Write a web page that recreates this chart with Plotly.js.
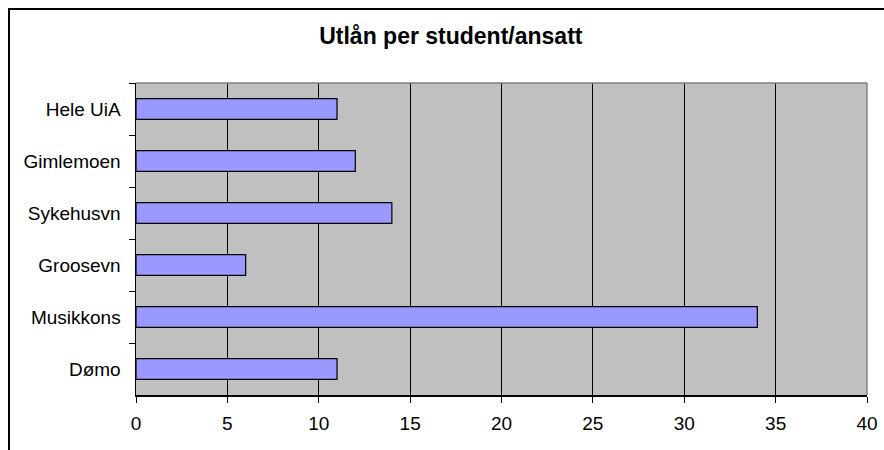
<!DOCTYPE html>
<html>
<head>
<meta charset="utf-8">
<script src="https://cdn.plot.ly/plotly-3.0.1.min.js"></script>
<style>
  html, body { margin: 0; padding: 0; background: #fff; }
  #wrap { position: relative; width: 884px; height: 450px; overflow: hidden; }
  #frame { position: absolute; left: 8px; top: 8px; width: 1000px; height: 1000px; border-left: 2px solid #000; border-top: 2px solid #000; pointer-events: none; z-index: 5; }
  #chart { position: absolute; left: 0; top: 0; width: 884px; height: 450px; }
</style>
</head>
<body>
<div id="wrap">
  <div id="chart"></div>
  <div id="frame"></div>
</div>
<script>
const categories = ["Hele UiA", "Gimlemoen", "Sykehusvn", "Groosevn", "Musikkons", "Dømo"];
const values = [11, 12, 14, 6, 34, 11];
const xTicks = [0, 5, 10, 15, 20, 25, 30, 35, 40];
const titleText = "Utlån per student/ansatt";

const font = "Liberation Sans, Arial, sans-serif";

const trace = {
  type: "bar",
  orientation: "h",
  y: categories,
  x: values,
  width: 0.4,
  marker: { color: "#9999FF", line: { color: "#000000", width: 1.2 } },
  hoverinfo: "none"
};

const layout = {
  width: 884,
  height: 450,
  margin: { l: 136, r: 17, t: 83, b: 55, pad: 0 },
  paper_bgcolor: "#ffffff",
  plot_bgcolor: "#C0C0C0",
  showlegend: false,
  title: {
    text: "<b>" + titleText + "</b>",
    font: { family: font, size: 23, color: "#000" },
    x: 0.51, xanchor: "center",
    xref: "container",
    y: (450 - 36) / 450, yanchor: "middle", yref: "container"
  },
  xaxis: {
    range: [0, 40],
    tickvals: xTicks,
    ticktext: xTicks.map(String),
    showgrid: true,
    gridcolor: "#000000",
    gridwidth: 1,
    zeroline: false,
    showline: true,
    linecolor: "#000000",
    linewidth: 1.5,
    ticks: "outside",
    ticklen: 6,
    tickcolor: "#000000",
    tickwidth: 1,
    tickfont: { family: font, size: 19, color: "#000" },
    ticklabelstandoff: 5,
    fixedrange: true
  },
  yaxis: {
    type: "category",
    autorange: "reversed",
    showgrid: false,
    zeroline: false,
    showline: true,
    linecolor: "#000000",
    linewidth: 1.5,
    ticks: "outside",
    tickson: "boundaries",
    ticklen: 6,
    tickcolor: "#000000",
    tickwidth: 1,
    tickfont: { family: font, size: 19, color: "#000" },
    ticklabelstandoff: 10,
    fixedrange: true
  },
  shapes: [
    { type: "line", xref: "paper", yref: "paper", x0: 0, x1: 1, y0: 1, y1: 1, line: { color: "#808080", width: 1.5 }, layer: "above" },
    { type: "line", xref: "paper", yref: "paper", x0: 1, x1: 1, y0: 0, y1: 1, line: { color: "#808080", width: 1.5 }, layer: "above" }
  ]
};

Plotly.newPlot("chart", [trace], layout, { displayModeBar: false, staticPlot: true });
</script>
</body>
</html>
